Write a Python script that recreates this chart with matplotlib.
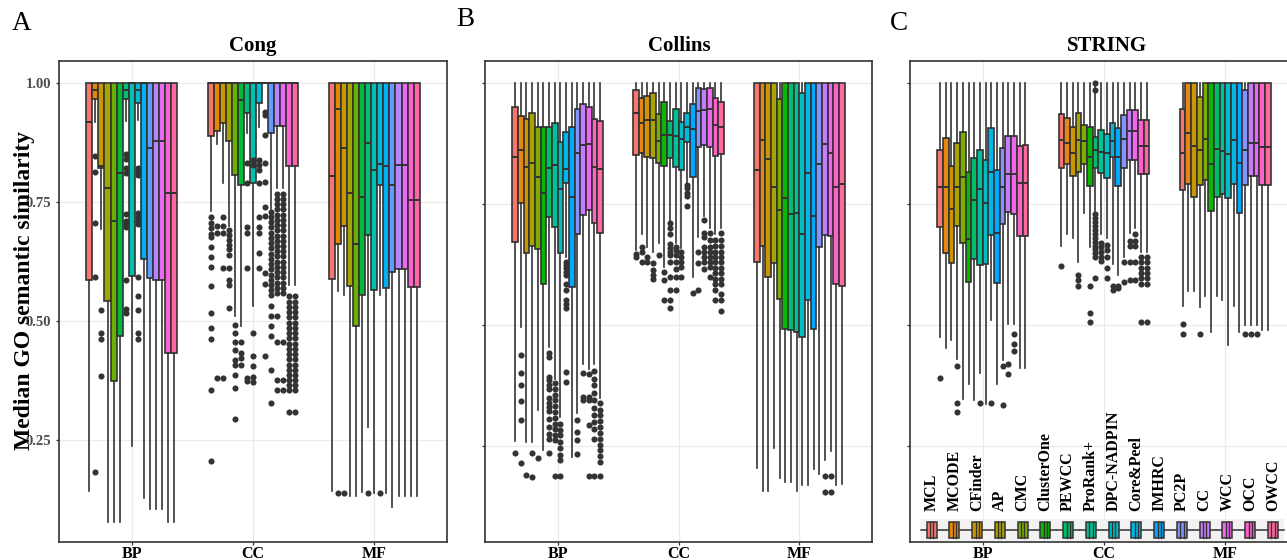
import numpy as np
import matplotlib
matplotlib.use("Agg")
import matplotlib.pyplot as plt
from matplotlib.patches import Rectangle
from matplotlib.lines import Line2D

plt.rcParams['font.family'] = ['Liberation Serif', 'DejaVu Serif']

# ---------------- data ----------------
categories = ["BP", "CC", "MF"]
methods = ["MCL", "MCODE", "CFinder", "AP", "CMC", "ClusterOne", "PEWCC", "ProRank+",
           "DPC-NADPIN", "Core&Peel", "IMHRC", "PC2P", "CC", "WCC", "OCC", "OWCC"]
cong_methods = ["MCL", "MCODE", "CFinder", "AP", "CMC", "ClusterOne", "PEWCC", "ProRank+",
                "DPC-NADPIN", "IMHRC", "PC2P", "CC", "WCC", "OCC", "OWCC"]
y_ticks = [0.25, 0.50, 0.75, 1.00]
y_tick_labels = ["0.25", "0.50", "0.75", "1.00"]
whisker_top = 1.0

# ---- Cong (A) ----
cong_q3 = {"BP": [1.0] * 15, "CC": [1.0] * 15, "MF": [1.0] * 15}
cong_med = {
    "BP": [0.917, 0.985, 0.825, 0.778, 0.710, 0.811, 0.985, 1.0, 0.985, 1.0, 0.864, 0.878, 0.878, 0.769, 0.769],
    "CC": [1.0, 1.0, 1.0, 1.0, 1.0, 0.964, 1.0, 1.0, 1.0, 1.0, 1.0, 1.0, 1.0, 1.0, 1.0],
    "MF": [0.804, 0.944, 0.864, 0.769, 0.661, 0.761, 0.874, 0.817, 0.830, 0.825, 0.785, 0.827, 0.827, 0.754, 0.754],
}
cong_q1 = {
    "BP": [0.585, 0.965, 0.820, 0.542, 0.373, 0.467, 0.965, 0.594, 0.958, 0.629, 0.589, 0.585, 0.585, 0.432, 0.432],
    "CC": [0.888, 0.899, 0.916, 0.878, 0.806, 0.785, 0.937, 0.790, 0.957, 1.0, 0.895, 0.909, 0.909, 0.825, 0.825],
    "MF": [0.587, 0.661, 0.700, 0.573, 0.489, 0.554, 0.680, 0.565, 0.785, 0.568, 0.603, 0.608, 0.608, 0.571, 0.571],
}
cong_lo = {
    "BP": [0.142, 0.918, 0.692, 0.078, 0.078, 0.078, 0.920, 0.236, 0.922, 0.127, 0.104, 0.104, 0.104, 0.078, 0.078],
    "CC": [0.730, 0.871, 0.790, 0.699, 0.509, 0.488, 0.894, 0.530, 0.908, 1.0, 0.735, 0.778, 0.778, 0.575, 0.575],
    "MF": [0.143, 0.563, 0.554, 0.132, 0.132, 0.141, 0.276, 0.137, 0.554, 0.137, 0.109, 0.132, 0.132, 0.132, 0.132],
}
cong_out = {
    "BP": [[], [0.847, 0.812, 0.705, 0.591, 0.182], [0.523, 0.474, 0.461, 0.384], [], [], [],
           [0.850, 0.840, 0.820, 0.811, 0.725, 0.710, 0.703, 0.697, 0.585, 0.524, 0.517], [],
           [0.820, 0.813, 0.806, 0.726, 0.719, 0.710, 0.703, 0.591, 0.551, 0.523, 0.474, 0.461],
           [], [], [], [], [], []],
    "CC": [[0.718, 0.705, 0.694, 0.683, 0.675, 0.656, 0.634, 0.613, 0.574, 0.516, 0.484, 0.462, 0.354, 0.206],
           [0.700, 0.684, 0.379],
           [0.719, 0.700, 0.684, 0.610, 0.379],
           [0.690, 0.680, 0.670, 0.660, 0.650, 0.638, 0.610, 0.585, 0.575, 0.526],
           [0.490, 0.474, 0.456, 0.438, 0.418, 0.407, 0.386, 0.358, 0.293],
           [0.456, 0.432, 0.421, 0.407],
           [0.831, 0.789, 0.698, 0.684, 0.610, 0.379, 0.373],
           [0.838, 0.827, 0.474, 0.425, 0.404, 0.382, 0.372],
           [0.838, 0.827, 0.817, 0.789, 0.719, 0.698, 0.684, 0.642, 0.610],
           [0.939, 0.932, 0.890, 0.831, 0.791, 0.739, 0.720, 0.600, 0.578, 0.425],
           [0.729, 0.718, 0.707, 0.696, 0.685, 0.674, 0.663, 0.652, 0.641, 0.630, 0.619, 0.608,
            0.597, 0.586, 0.575, 0.564, 0.554, 0.530, 0.510, 0.488, 0.467, 0.397, 0.327],
           [0.767, 0.756, 0.745, 0.734, 0.723, 0.712, 0.701, 0.690, 0.679, 0.668, 0.657, 0.646,
            0.635, 0.624, 0.613, 0.602, 0.591, 0.580, 0.569, 0.558, 0.509, 0.456, 0.376, 0.355],
           [0.767, 0.756, 0.745, 0.734, 0.723, 0.712, 0.701, 0.690, 0.679, 0.668, 0.657, 0.646,
            0.635, 0.624, 0.613, 0.602, 0.591, 0.580, 0.569, 0.558, 0.456, 0.376, 0.355],
           [0.551, 0.540, 0.529, 0.518, 0.507, 0.496, 0.485, 0.474, 0.463, 0.452, 0.441, 0.430,
            0.419, 0.408, 0.397, 0.386, 0.375, 0.364, 0.354, 0.309],
           [0.551, 0.540, 0.529, 0.518, 0.507, 0.496, 0.485, 0.474, 0.463, 0.452, 0.441, 0.430,
            0.419, 0.408, 0.397, 0.386, 0.375, 0.364, 0.354, 0.309]],
    "MF": [[], [0.137], [0.137], [], [], [], [0.137], [], [0.137], [], [], [], [], [], []],
}

# ---- Collins (B) ----
collins_q3 = {
    "BP": [0.949, 0.932, 0.925, 0.937, 0.909, 0.909, 0.909, 0.916, 0.878, 0.899, 0.909, 0.945, 0.956, 0.949, 0.925, 0.922],
    "CC": [0.985, 0.968, 0.973, 0.978, 0.935, 0.961, 0.922, 0.945, 0.919, 0.937, 0.956, 0.989, 0.987, 0.989, 0.968, 0.961],
    "MF": [1.0, 1.0, 1.0, 1.0, 0.966, 1.0, 1.0, 1.0, 0.978, 1.0, 1.0, 1.0, 1.0, 1.0, 1.0, 1.0],
}
collins_med = {
    "BP": [0.846, 0.861, 0.826, 0.834, 0.806, 0.773, 0.825, 0.830, 0.780, 0.822, 0.765, 0.855, 0.872, 0.874, 0.827, 0.822],
    "CC": [0.937, 0.918, 0.923, 0.923, 0.880, 0.892, 0.892, 0.890, 0.883, 0.909, 0.904, 0.942, 0.944, 0.945, 0.913, 0.909],
    "MF": [0.821, 0.882, 0.842, 0.786, 0.738, 0.763, 0.729, 0.731, 0.689, 0.813, 0.726, 0.832, 0.873, 0.856, 0.786, 0.792],
}
collins_q1 = {
    "BP": [0.671, 0.751, 0.649, 0.663, 0.658, 0.584, 0.724, 0.703, 0.648, 0.793, 0.578, 0.688, 0.727, 0.738, 0.711, 0.690],
    "CC": [0.851, 0.856, 0.846, 0.844, 0.834, 0.829, 0.844, 0.827, 0.820, 0.878, 0.806, 0.867, 0.871, 0.868, 0.849, 0.854],
    "MF": [0.631, 0.663, 0.599, 0.628, 0.555, 0.493, 0.491, 0.486, 0.476, 0.553, 0.493, 0.662, 0.686, 0.685, 0.585, 0.580],
}
collins_lo = {
    "BP": [0.261, 0.497, 0.260, 0.260, 0.325, 0.242, 0.455, 0.390, 0.310, 0.640, 0.228, 0.320, 0.420, 0.410, 0.420, 0.350],
    "CC": [0.655, 0.689, 0.662, 0.652, 0.669, 0.620, 0.713, 0.670, 0.660, 0.793, 0.600, 0.682, 0.725, 0.700, 0.689, 0.700],
    "MF": [0.206, 0.158, 0.158, 0.246, 0.184, 0.177, 0.177, 0.158, 0.170, 0.170, 0.204, 0.194, 0.223, 0.241, 0.170, 0.173],
}
collins_out = {
    "BP": [[0.236],
           [0.438, 0.401, 0.376, 0.343, 0.304, 0.216],
           [0.191],
           [0.236, 0.188],
           [0.227],
           [],
           [0.442, 0.435, 0.394, 0.387, 0.376, 0.368, 0.350, 0.340, 0.332, 0.324, 0.306, 0.290, 0.275, 0.265, 0.236],
           [0.380, 0.368, 0.356, 0.345, 0.333, 0.321, 0.309, 0.297, 0.285, 0.273, 0.263, 0.190],
           [0.297, 0.283, 0.273, 0.260, 0.246, 0.232, 0.222, 0.190],
           [0.631, 0.624, 0.617, 0.610, 0.603, 0.586, 0.572, 0.551, 0.543, 0.535, 0.404, 0.383],
           [],
           [0.304, 0.280, 0.263, 0.235],
           [0.401, 0.353, 0.346],
           [0.400, 0.352, 0.345, 0.295, 0.190],
           [0.405, 0.390, 0.376, 0.360, 0.345, 0.330, 0.315, 0.300, 0.285, 0.265, 0.190],
           [0.339, 0.326, 0.314, 0.302, 0.290, 0.278, 0.266, 0.254, 0.242, 0.230, 0.218, 0.190]],
    "CC": [[0.646, 0.641],
           [0.662, 0.652, 0.631],
           [0.641, 0.631],
           [0.629, 0.614, 0.603, 0.596],
           [0.645],
           [0.610, 0.593, 0.552],
           [0.710, 0.700, 0.689, 0.668, 0.660, 0.652, 0.645, 0.630, 0.600, 0.572, 0.552, 0.535],
           [0.662, 0.655, 0.645, 0.630, 0.615, 0.600, 0.572],
           [0.652, 0.641, 0.630, 0.620, 0.600],
           [0.789, 0.782, 0.773, 0.766, 0.746],
           [0.566],
           [0.652, 0.628, 0.572],
           [0.717, 0.690, 0.682, 0.662, 0.652, 0.641, 0.630, 0.615],
           [0.690, 0.675, 0.662, 0.652, 0.641, 0.630, 0.620, 0.600],
           [0.675, 0.664, 0.652, 0.641, 0.630, 0.619, 0.608, 0.596, 0.585, 0.572, 0.552],
           [0.690, 0.675, 0.664, 0.652, 0.641, 0.630, 0.619, 0.608, 0.596, 0.585, 0.565, 0.552, 0.530]],
    "MF": [[], [], [], [], [], [], [], [], [], [], [], [], [0.190, 0.156], [0.190, 0.156], [], []],
}

# ---- STRING (C) ----
string_q3 = {
    "BP": [0.862, 0.886, 0.828, 0.876, 0.899, 0.816, 0.844, 0.862, 0.840, 0.906, 0.820, 0.866, 0.890, 0.890, 0.869, 0.871],
    "CC": [0.935, 0.928, 0.908, 0.937, 0.913, 0.908, 0.887, 0.902, 0.894, 0.917, 0.907, 0.934, 0.944, 0.944, 0.924, 0.924],
    "MF": [0.946, 1.0, 1.0, 0.970, 1.0, 1.0, 1.0, 1.0, 1.0, 1.0, 1.0, 0.985, 1.0, 1.0, 1.0, 1.0],
}
string_med = {
    "BP": [0.784, 0.784, 0.740, 0.785, 0.806, 0.678, 0.758, 0.780, 0.751, 0.816, 0.689, 0.784, 0.812, 0.812, 0.792, 0.792],
    "CC": [0.881, 0.876, 0.854, 0.881, 0.880, 0.847, 0.861, 0.858, 0.854, 0.880, 0.846, 0.883, 0.900, 0.900, 0.869, 0.869],
    "MF": [0.854, 0.897, 0.869, 0.861, 0.883, 0.832, 0.863, 0.860, 0.852, 0.882, 0.835, 0.861, 0.875, 0.876, 0.867, 0.867],
}
string_q1 = {
    "BP": [0.703, 0.649, 0.628, 0.704, 0.670, 0.589, 0.637, 0.623, 0.625, 0.685, 0.586, 0.708, 0.733, 0.730, 0.684, 0.684],
    "CC": [0.823, 0.833, 0.808, 0.815, 0.832, 0.786, 0.824, 0.813, 0.804, 0.846, 0.786, 0.824, 0.841, 0.841, 0.811, 0.811],
    "MF": [0.779, 0.791, 0.765, 0.789, 0.799, 0.736, 0.765, 0.771, 0.762, 0.791, 0.732, 0.789, 0.808, 0.808, 0.789, 0.789],
}
string_lo = {
    "BP": [0.475, 0.453, 0.468, 0.430, 0.348, 0.379, 0.345, 0.400, 0.337, 0.510, 0.379, 0.427, 0.503, 0.503, 0.411, 0.411],
    "CC": [0.662, 0.688, 0.680, 0.629, 0.732, 0.660, 0.735, 0.688, 0.680, 0.625, 0.604, 0.640, 0.690, 0.700, 0.650, 0.650],
    "MF": [0.540, 0.570, 0.570, 0.538, 0.559, 0.485, 0.559, 0.552, 0.459, 0.540, 0.485, 0.500, 0.500, 0.500, 0.490, 0.490],
}
string_out = {
    "BP": [[0.391], [], [], [0.416, 0.339, 0.320], [], [], [], [0.339], [], [0.339], [],
           [0.416, 0.334], [0.420, 0.398], [0.482, 0.461, 0.447], [], []],
    "CC": [[0.621], [], [], [0.603, 0.592, 0.581], [], [0.581, 0.524, 0.507],
           [1.000, 0.985, 0.728, 0.720, 0.712, 0.704, 0.696, 0.688, 0.680, 0.672, 0.664, 0.656, 0.648, 0.640, 0.597],
           [0.669, 0.660, 0.650, 0.640, 0.632],
           [0.666, 0.655, 0.640, 0.618, 0.596],
           [0.581, 0.573], [0.581, 0.577], [0.629, 0.588],
           [0.673, 0.662, 0.629, 0.592], [0.688, 0.673, 0.662, 0.629, 0.592],
           [0.640, 0.629, 0.618, 0.607, 0.596, 0.585, 0.507],
           [0.640, 0.629, 0.618, 0.607, 0.596, 0.585, 0.507]],
    "MF": [[0.503, 0.481], [], [], [0.481], [], [], [], [], [], [], [], [0.481], [0.481], [0.481], [], []],
}


# ---------------- helpers ----------------
def hue_palette(n, c=100.0, l=65.0):
    """ggplot2-like hue palette (HCL -> sRGB)."""
    cols = []
    Xn, Yn, Zn = 95.047, 100.0, 108.883
    un = 4 * Xn / (Xn + 15 * Yn + 3 * Zn)
    vn = 9 * Yn / (Xn + 15 * Yn + 3 * Zn)
    for k in range(n):
        h = np.deg2rad(15 + 360.0 * k / n)
        U, V = c * np.cos(h), c * np.sin(h)
        Y = Yn * ((l + 16) / 116) ** 3
        u = U / (13 * l) + un
        v = V / (13 * l) + vn
        X = 9.0 * Y * u / (4 * v)
        Z = -X / 3 - 5 * Y + 3 * Y / v
        rgb_lin = np.array([3.240479 * X - 1.537150 * Y - 0.498535 * Z,
                            -0.969256 * X + 1.875992 * Y + 0.041556 * Z,
                            0.055648 * X - 0.204043 * Y + 1.057311 * Z]) / 100.0
        rgb = np.where(rgb_lin <= 0.0031308, 12.92 * rgb_lin, 1.055 * np.abs(rgb_lin) ** (1 / 2.4) - 0.055)
        cols.append(tuple(np.clip(rgb, 0, 1)))
    return cols


W, H = 1287, 560
fig = plt.figure(figsize=(W / 100, H / 100), dpi=100)


def fx(px):
    return px / W


def fy(py):
    return 1 - py / H


TOP, BOTTOM = 61.4, 542.0
DARK = "#333333"


def draw_panel(left, right, meths, q3, med, q1, lo, out, ylim, show_ylabels):
    ax = fig.add_axes([fx(left), fy(BOTTOM), (right - left) / W, (BOTTOM - TOP) / H])
    n = len(meths)
    cols = hue_palette(n)
    w = 0.75 / n
    for gi, cat in enumerate(categories):
        stats, pos = [], []
        for i in range(n):
            stats.append(dict(med=med[cat][i], q1=q1[cat][i], q3=q3[cat][i],
                              whislo=lo[cat][i], whishi=whisker_top,
                              fliers=np.array(out[cat][i], dtype=float)))
            pos.append(gi + 1 + (i - (n - 1) / 2) * w)
        art = ax.bxp(stats, positions=pos, widths=w, patch_artist=True, showcaps=False,
                     manage_ticks=False,
                     boxprops=dict(edgecolor=DARK, linewidth=1.2),
                     whiskerprops=dict(color=DARK, linewidth=1.2),
                     medianprops=dict(color=DARK, linewidth=1.4),
                     flierprops=dict(marker='o', markerfacecolor=DARK, markeredgecolor='none',
                                     markersize=4.4))
        for patch, colr in zip(art['boxes'], cols):
            patch.set_facecolor(colr)
    ax.set_xlim(0.4, 3.6)
    ax.set_ylim(*ylim)
    ax.set_xticks([1, 2, 3])
    ax.set_xticklabels(categories, fontsize=11.5, fontweight='bold', color='black')
    ax.set_yticks(y_ticks)
    if show_ylabels:
        ax.set_yticklabels(y_tick_labels, fontsize=10.5, fontweight='bold', color='#4D4D4D')
    else:
        ax.set_yticklabels([])
    ax.grid(True, color='#EBEBEB', linewidth=0.9)
    ax.set_axisbelow(True)
    for sp in ax.spines.values():
        sp.set_color(DARK)
        sp.set_linewidth(1.2)
    ax.tick_params(axis='both', length=2.5, width=0.9, color=DARK)
    ax.tick_params(axis='x', pad=0.5)
    ax.tick_params(axis='y', pad=3)
    return ax


draw_panel(59, 447, cong_methods, cong_q3, cong_med, cong_q1, cong_lo, cong_out,
           (0.035, 1.045), True)
draw_panel(485, 872, methods, collins_q3, collins_med, collins_q1, collins_lo, collins_out,
           (0.053, 1.044), False)
draw_panel(910, 1298, methods, string_q3, string_med, string_q1, string_lo, string_out,
           (0.052, 1.044), False)

# titles and labels
fig.text(fx(253), fy(46), "Cong", ha='center', va='center', fontsize=15, fontweight='bold')
fig.text(fx(679), fy(46), "Collins", ha='center', va='center', fontsize=15, fontweight='bold')
fig.text(fx(1107), fy(46), "STRING", ha='center', va='center', fontsize=15, fontweight='bold')
fig.text(fx(22), fy(23), "A", ha='center', va='center', fontsize=19.5)
fig.text(fx(465), fy(19), "B", ha='center', va='center', fontsize=19.5)
fig.text(fx(899), fy(23), "C", ha='center', va='center', fontsize=19.5)
fig.text(fx(25), fy(290), "Median GO semantic similarity", rotation=90, ha='center',
         va='center', fontsize=17, fontweight='bold')

# legend (inside panel C, bottom)
leg_cols = hue_palette(len(methods))
key0, kstep = 931.6, 22.76
fig.add_artist(Rectangle((fx(key0 - kstep / 2), fy(540.5)), (kstep * len(methods)) / W, 22.0 / H,
                         transform=fig.transFigure, facecolor='#F2F2F2', edgecolor='none', zorder=3))
for i, (m, colr) in enumerate(zip(methods, leg_cols)):
    cx = key0 + i * kstep
    fig.add_artist(Line2D([fx(cx - kstep / 2 + 0.5), fx(cx + kstep / 2 - 0.5)], [fy(529.5), fy(529.5)],
                          transform=fig.transFigure, color=DARK, linewidth=1.1, zorder=4))
    fig.add_artist(Rectangle((fx(cx - 5), fy(538)), 10 / W, 16.5 / H, transform=fig.transFigure,
                             facecolor=colr, edgecolor=DARK, linewidth=1.1, zorder=5))
    for dx in (-1.6, 1.6):
        fig.add_artist(Line2D([fx(cx + dx), fx(cx + dx)], [fy(538), fy(521.5)],
                              transform=fig.transFigure, color=DARK, linewidth=1.0, zorder=6))
    fig.text(fx(cx), fy(511.0), m, rotation=90, ha='center', va='bottom', fontsize=11.5,
             fontweight='bold', zorder=6)

fig.savefig("out.png", dpi=100)
